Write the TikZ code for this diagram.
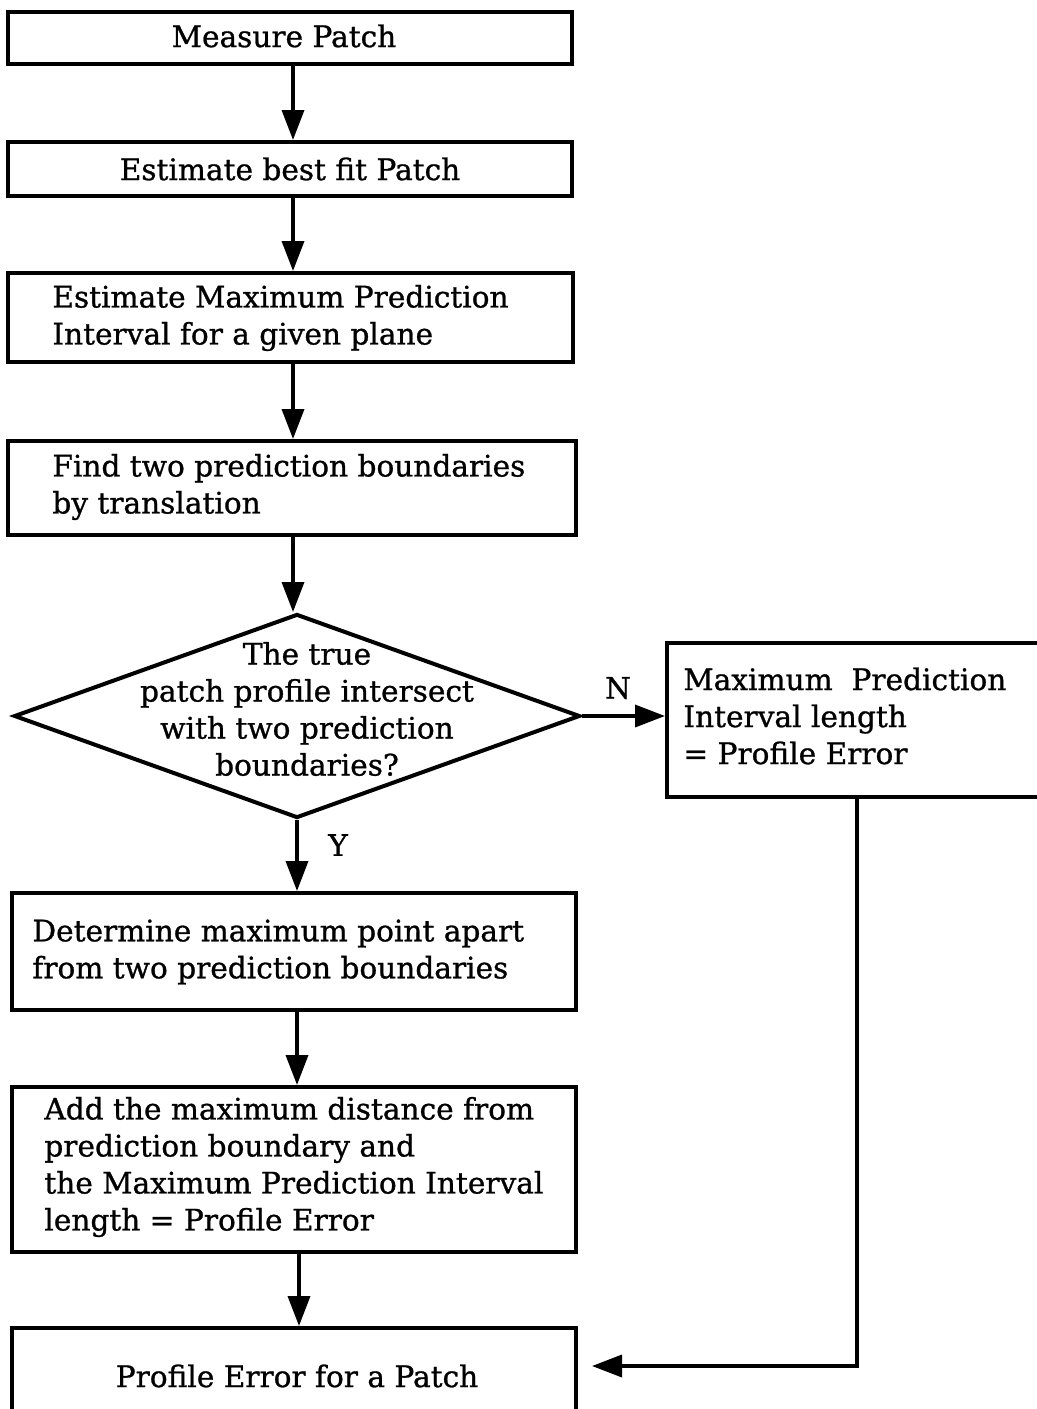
\documentclass[tikz,border=0pt]{standalone}
\usepackage{fontspec}
\setmainfont{DejaVu Serif}[FakeBold=0.9]
\usetikzlibrary{shapes.geometric,arrows.meta}
\begin{document}
\begin{tikzpicture}[x=0.5pt,y=-0.5pt,
  txtfont/.style={font=\fontsize{14.8}{18.5}\selectfont},
  box/.style={draw,line width=2pt,rectangle,inner sep=0pt,txtfont},
  txt/.style={inner sep=0pt,align=left,txtfont},
  ctxt/.style={inner sep=0pt,align=center,txtfont},
  dec/.style={draw,line width=2pt,diamond,inner sep=0pt},
  arr/.style={line width=1.8pt,-{Triangle[length=15pt,width=11pt]}}]
\useasboundingbox (0,0) rectangle (1037,1409);
\clip (0,0) rectangle (1037,1409);
% boxes
\node[box,minimum width=282pt,minimum height=26pt] (b1) at (290,38) {};
\node[ctxt] (t1) at (284,36) {Measure Patch};
\node[box,minimum width=282pt,minimum height=27pt] (b2) at (290,169) {};
\node[ctxt] (t2) at (290,169) {Estimate best fit Patch};
\node[box,minimum width=282.5pt,minimum height=44.5pt] (b3) at (290.5,317.5) {};
\node[txt,anchor=west] (t3) at (52,318) {Estimate Maximum Prediction\\Interval for a given plane};
\node[box,minimum width=284pt,minimum height=47pt] (b4) at (292,488) {};
\node[txt,anchor=west] (t4) at (52,487) {Find two prediction boundaries\\by translation};
\node[dec,minimum width=283pt,minimum height=102pt] (d) at (297,716) {};
\node[ctxt] (td) at (307,709) {The true\\patch profile intersect\\with two prediction\\boundaries?};
\node[box,minimum width=191.5pt,minimum height=77pt] (b5) at (858.5,720) {};
\node[txt,anchor=west] (t5) at (683,716) {Maximum\ \ Prediction\\Interval length\\= Profile Error};
\node[box,minimum width=282pt,minimum height=58.5pt] (b6) at (294,951.5) {};
\node[txt,anchor=west] (t6) at (32,952) {Determine maximum point apart\\from two prediction boundaries};
\node[box,minimum width=282pt,minimum height=82.5pt] (b7) at (294,1169.5) {};
\node[txt,anchor=west] (t7) at (44,1167) {Add the maximum distance from\\prediction boundary and\\the Maximum Prediction Interval\\length = Profile Error};
\node[box,minimum width=282pt,minimum height=51pt] (b8) at (294,1379) {};
\node[ctxt] (t8) at (297,1376) {Profile Error for a Patch};
% labels
\node[ctxt] (ln) at (618,688) {N};
\node[ctxt] (ly) at (338,845) {Y};
% connectors
\draw[arr] (293,0 |- b1.south) -- (293,0 |- b2.north);
\draw[arr] (293,0 |- b2.south) -- (293,0 |- b3.north);
\draw[arr] (293,0 |- b3.south) -- (293,0 |- b4.north);
\draw[arr] (293,0 |- b4.south) -- (293,0 |- d.north);
\draw[arr] (d.south) -- (d.south |- b6.north);
\draw[arr] (d.east) -- (d.east -| b5.west);
\draw[arr] (297,0 |- b6.south) -- (297,0 |- b7.north);
\draw[arr] (299,0 |- b7.south) -- (299,0 |- b8.north);
\coordinate (r) at (592,1366);
\draw[arr] (857,0 |- b5.south) |- (r);
\end{tikzpicture}
\end{document}
